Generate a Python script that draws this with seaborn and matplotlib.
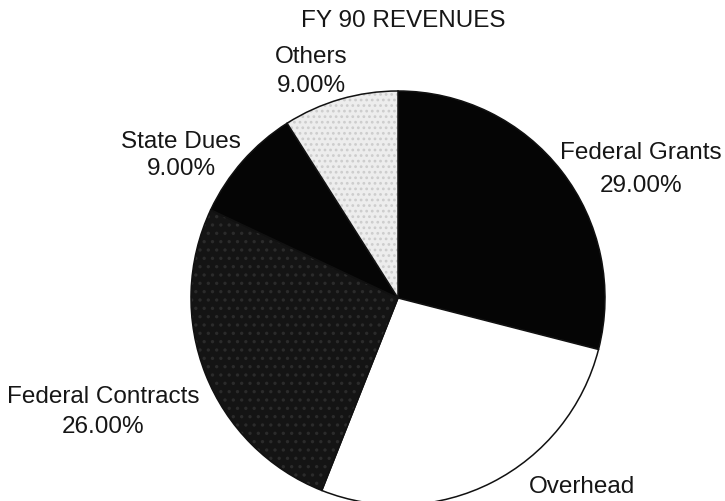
import matplotlib
matplotlib.use("Agg")
import matplotlib.pyplot as plt
import seaborn as sns

# Revenue shares, clockwise from 12 o'clock
categories = ["Federal Grants", "Overhead", "Federal Contracts", "State Dues", "Others"]
shares = [29.0, 27.0, 26.0, 9.0, 9.0]
title = "FY 90 REVENUES"

# Fill style for each wedge: (facecolor, hatch, hatch colour)
wedge_styles = [
    ("#050505", None, None),
    ("#ffffff", None, None),
    ("#141414", "..", "#2b2b2b"),
    ("#050505", None, None),
    ("#ededed", "...", "#cdcdcd"),
]

# Label anchor points (x centre, name baseline, percent baseline) in pixel units;
# the Overhead percentage would fall below the page edge, so it is left out
label_pos = [
    (641, 159, 192),
    (582, 493, None),
    (103, 403, 433),
    (181, 148, 175),
    (311, 63, 92),
]

sns.set_theme(style="white")
plt.rcParams["font.family"] = ["Liberation Sans", "DejaVu Sans"]
plt.rcParams["hatch.linewidth"] = 1.2

W, H = 725, 501
fig = plt.figure(figsize=(W / 100, H / 100), dpi=100)
ax = fig.add_axes([0, 0, 1, 1])

cx, cy, r = 398, H - 298, 207
wedges, _ = ax.pie(
    shares,
    startangle=90,
    counterclock=False,
    center=(cx, cy),
    radius=r,
    frame=True,
    wedgeprops=dict(edgecolor="#111111", linewidth=1.1),
)
for w, (fc, hatch, hc) in zip(wedges, wedge_styles):
    w.set_facecolor(fc)
    if hatch:
        w.set_hatch(hatch)
        w._hatch_color = matplotlib.colors.to_rgba(hc)

ax.set_xlim(0, W)
ax.set_ylim(0, H)
ax.set_aspect("equal")
ax.axis("off")

txt_kw = dict(fontsize=17.5, color="#161616", ha="center", va="baseline")
for name, val, (x, yn, yp) in zip(categories, shares, label_pos):
    ax.text(x, H - yn, name, **txt_kw)
    if yp is not None:
        ax.text(x, H - yp, f"{val:.2f}%", **txt_kw)

ax.text(403, H - 27, title, **txt_kw)

fig.savefig("out.png", dpi=100)
